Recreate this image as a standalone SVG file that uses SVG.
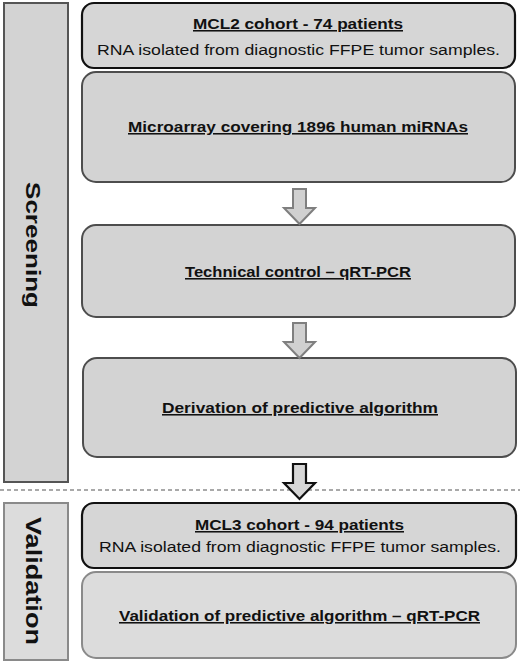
<svg xmlns="http://www.w3.org/2000/svg" width="520" height="662" viewBox="0 0 520 662">
<style>
.bg{fill:#ffffff}
.box{fill:#d3d3d3;stroke:#4d4d4d;stroke-width:2}
.boxk{fill:#d6d6d6;stroke:#111111;stroke-width:2.2}
.boxl{fill:#dcdcdc;stroke:#8a8a8a;stroke-width:2}
.t{font-family:"Liberation Sans",Arial,sans-serif;font-size:15.5px;fill:#111111;text-anchor:middle}
.b{font-weight:bold;text-decoration:underline}
.side{font-family:"Liberation Sans",Arial,sans-serif;font-weight:bold;fill:#111111;text-anchor:middle}
.arr{fill:#d0d0d0;stroke:#7f7f7f;stroke-width:2;stroke-linejoin:miter}
.arrk{fill:#d6d6d6;stroke:#111111;stroke-width:2.2;stroke-linejoin:miter}
</style>
<rect class="bg" x="0" y="0" width="520" height="662"/>
<g id="screening">
<rect x="4" y="3" width="64" height="479" fill="#d3d3d3" stroke="#555555" stroke-width="2"/>
<text class="side" font-size="20" transform="translate(25.5,245) rotate(90)" textLength="126" lengthAdjust="spacingAndGlyphs">Screening</text>
</g>
<g id="validation">
<rect x="4" y="503" width="64" height="157" fill="#dcdcdc" stroke="#8a8a8a" stroke-width="2"/>
<text class="side" font-size="22" transform="translate(25.5,581) rotate(90)" textLength="128" lengthAdjust="spacingAndGlyphs">Validation</text>
</g>
<g id="divider">
<line x1="0" y1="490" x2="520" y2="490" stroke="#555555" stroke-width="1.2" stroke-dasharray="4 3"/>
</g>
<g id="mcl2">
<rect class="boxk" x="82" y="3" width="433" height="65" rx="12"/>
<text class="t b" x="298" y="29" textLength="210" lengthAdjust="spacingAndGlyphs">MCL2 cohort - 74 patients</text>
<text class="t" x="298.5" y="55" textLength="403" lengthAdjust="spacingAndGlyphs">RNA isolated from diagnostic FFPE tumor samples.</text>
</g>
<g id="microarray">
<rect class="box" x="82" y="72" width="433" height="110" rx="14"/>
<text class="t b" x="298" y="132" textLength="340" lengthAdjust="spacingAndGlyphs">Microarray covering 1896 human miRNAs</text>
</g>
<g id="technical">
<rect class="box" x="82" y="225" width="433" height="92" rx="14"/>
<text class="t b" x="298" y="277" textLength="226" lengthAdjust="spacingAndGlyphs">Technical control – qRT-PCR</text>
</g>
<g id="derivation">
<rect class="box" x="83" y="358" width="433" height="99" rx="14"/>
<text class="t b" x="300" y="413" textLength="276" lengthAdjust="spacingAndGlyphs">Derivation of predictive algorithm</text>
</g>
<g id="mcl3">
<rect class="boxk" x="82" y="503" width="434" height="65" rx="12"/>
<text class="t b" x="299.5" y="530" textLength="209" lengthAdjust="spacingAndGlyphs">MCL3 cohort - 94 patients</text>
<text class="t" x="300" y="552" textLength="402" lengthAdjust="spacingAndGlyphs">RNA isolated from diagnostic FFPE tumor samples.</text>
</g>
<g id="validation-algorithm">
<rect class="boxl" x="82" y="572" width="434" height="86" rx="14"/>
<text class="t b" x="299.5" y="621" textLength="361" lengthAdjust="spacingAndGlyphs">Validation of predictive algorithm – qRT-PCR</text>
</g>
<g id="connectors">
<path class="arr" d="M293,189 H306 V208 H315 L299.5,224 L284,208 H293 Z"/>
<path class="arr" d="M293,323 H306 V342 H315 L299.5,358 L284,342 H293 Z"/>
<path class="arrk" d="M293,464 H306 V483 H315 L299.5,499 L284,483 H293 Z"/>
</g>
</svg>
